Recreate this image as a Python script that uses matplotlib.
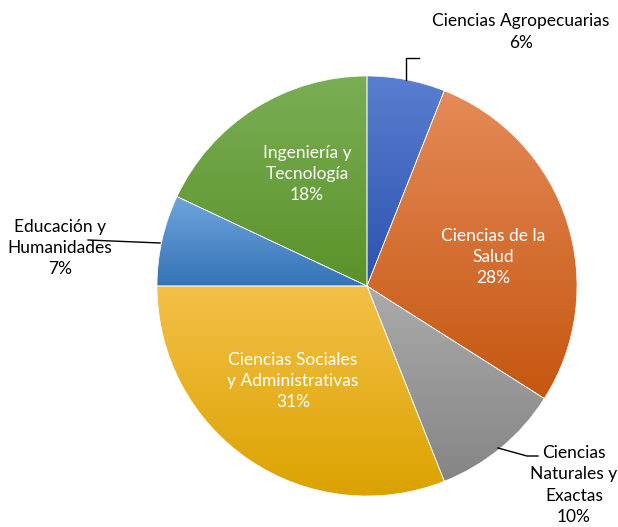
import numpy as np
import matplotlib.pyplot as plt
from matplotlib.colors import LinearSegmentedColormap

# Datos del grafico
areas = ['Ciencias Agropecuarias', 'Ciencias de la Salud', 'Ciencias\nNaturales y\nExactas',
         'Ciencias Sociales\ny Administrativas', 'Educación y\nHumanidades', 'Ingeniería y\nTecnología']
porcentajes = [6, 28, 10, 31, 7, 18]
# colores (claro arriba, oscuro abajo) como el degradado de Office
color_claro = ['#5a7ed0', '#e58a58', '#ababab', '#f4c048', '#6fa5dc', '#7bae55']
color_oscuro = ['#2c52ae', '#c5560f', '#858585', '#dba300', '#3473b7', '#5a9229']

plt.rcParams['font.family'] = ['Lato', 'DejaVu Sans']

fig = plt.figure(figsize=(6.18, 5.27), dpi=100)
ax = fig.add_axes([0, 0, 1, 1])

cx, cy, r = 367, 527 - 286, 210
wedges, _ = ax.pie(porcentajes, startangle=90, counterclock=False,
                   center=(cx, cy), radius=r, frame=True)

for w, c1, c2 in zip(wedges, color_claro, color_oscuro):
    bb = w.get_path().get_extents()
    cmap = LinearSegmentedColormap.from_list('g', [c2, c1])
    grad = np.linspace(0, 1, 256).reshape(-1, 1)
    im = ax.imshow(grad, cmap=cmap, aspect='auto', origin='lower',
                   extent=[bb.x0, bb.x1, bb.y0, bb.y1], zorder=2)
    im.set_clip_path(w)
    w.set_facecolor('none')
    w.set_edgecolor('white')
    w.set_linewidth(0.5)
    w.set_zorder(3)

ax.set_xlim(0, 618)
ax.set_ylim(0, 527)
ax.set_aspect('equal')
ax.axis('off')

fs = 12.5
ls = 1.42
# etiquetas internas (blancas)
ax.text(307, 527 - 174, 'Ingeniería y\nTecnología\n18%', color='white', fontsize=fs,
        ha='center', va='center', linespacing=ls, zorder=5)
ax.text(493, 527 - 257, 'Ciencias de la\nSalud\n28%', color='white', fontsize=fs,
        ha='center', va='center', linespacing=ls, zorder=5)
ax.text(293, 527 - 381, 'Ciencias Sociales\ny Administrativas\n31%', color='white', fontsize=fs,
        ha='center', va='center', linespacing=ls, zorder=5)

# etiquetas externas con lineas guia
ax.text(521, 527 - 32, 'Ciencias Agropecuarias\n6%', color='black', fontsize=fs,
        ha='center', va='center', linespacing=ls, zorder=5)
ax.plot([406, 406, 419], [527 - 80, 527 - 58, 527 - 58], color='black', lw=1, zorder=4)

ax.text(60, 527 - 248, 'Educación y\nHumanidades\n7%', color='black', fontsize=fs,
        ha='center', va='center', linespacing=ls, zorder=5)
ax.plot([160, 88], [527 - 243, 527 - 240], color='black', lw=1, zorder=6)

ax.text(574, 527 - 485, 'Ciencias\nNaturales y\nExactas\n10%', color='black', fontsize=fs,
        ha='center', va='center', linespacing=ls, zorder=5)
ax.plot([498, 527, 538], [527 - 448, 527 - 456, 527 - 456], color='black', lw=1, zorder=4)

fig.savefig('out.png', dpi=100)
